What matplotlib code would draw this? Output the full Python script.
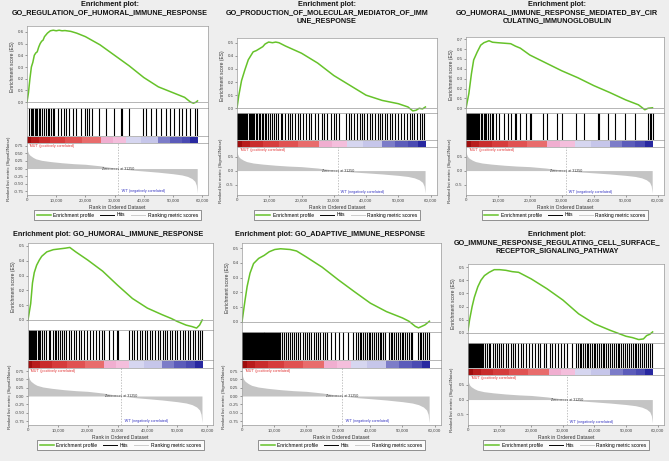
import numpy as np
import matplotlib
matplotlib.use("Agg")
import matplotlib.pyplot as plt
from matplotlib.lines import Line2D

plt.rcParams['font.family'] = ['Liberation Sans', 'DejaVu Sans']

W, H = 669, 461

titles = [
    "Enrichment plot:\nGO_REGULATION_OF_HUMORAL_IMMUNE_RESPONSE",
    "Enrichment plot:\nGO_PRODUCTION_OF_MOLECULAR_MEDIATOR_OF_IMM\nUNE_RESPONSE",
    "Enrichment plot:\nGO_HUMORAL_IMMUNE_RESPONSE_MEDIATED_BY_CIR\nCULATING_IMMUNOGLOBULIN",
    "Enrichment plot: GO_HUMORAL_IMMUNE_RESPONSE",
    "Enrichment plot: GO_ADAPTIVE_IMMUNE_RESPONSE",
    "Enrichment plot:\nGO_IMMUNE_RESPONSE_REGULATING_CELL_SURFACE_\nRECEPTOR_SIGNALING_PATHWAY",
]

# running enrichment score, rank in thousands
es_rank_1 = [0, 0.5, 1.0, 1.5, 2.0, 2.5, 3.0, 3.5, 4.0, 4.5, 5.0, 5.5, 6.0, 7.0, 8.0, 9.0, 10.0, 11.0, 12.0, 13.0,
             15.0, 17.0, 20.0, 25.0, 30.0, 35.0, 40.0, 45.0, 50.0, 54.0, 56.0, 57.0, 58.0, 58.4]
es_val_1 = [0.0, 0.08, 0.20, 0.30, 0.34, 0.40, 0.42, 0.43, 0.47, 0.50, 0.52, 0.53, 0.56, 0.59, 0.61, 0.615, 0.61, 0.615,
            0.61, 0.612, 0.605, 0.59, 0.56, 0.49, 0.40, 0.31, 0.21, 0.13, 0.08, 0.04, 0.0, -0.01, 0.0, 0.01]

es_rank_2 = [0, 0.5, 1.4, 2.4, 3.5, 5.0, 6.0, 7.0, 8.0, 8.7, 9.8, 11.0, 12.0, 13.0, 15.0, 20.0, 25.0, 30.0, 35.0,
             40.0, 45.0, 50.0, 53.0, 54.5, 55.5, 56.5, 57.5, 58.4]
es_val_2 = [0.0, 0.09, 0.21, 0.29, 0.37, 0.43, 0.44, 0.455, 0.47, 0.49, 0.505, 0.50, 0.505, 0.50, 0.475, 0.42, 0.345,
            0.25, 0.175, 0.10, 0.06, 0.035, 0.01, -0.02, -0.015, 0.0, -0.005, 0.01]

es_rank_3 = [0, 0.9, 1.7, 2.4, 3.5, 4.6, 5.6, 7.2, 8.3, 10.0, 12.0, 14.0, 15.5, 17.0, 20.0, 25.0, 30.0, 35.0, 40.0,
             45.0, 50.0, 54.0, 56.0, 57.0, 58.4]
es_val_3 = [0.0, 0.15, 0.35, 0.49, 0.57, 0.64, 0.665, 0.685, 0.67, 0.665, 0.66, 0.655, 0.63, 0.61, 0.54, 0.46, 0.38,
            0.31, 0.23, 0.16, 0.085, 0.035, -0.015, 0.0, 0.005]

es_rank_4 = [0, 0.9, 1.5, 2.1, 2.9, 3.8, 4.6, 6.3, 8.5, 10.5, 12.5, 14.0, 16.0, 20.0, 25.0, 30.0, 35.0, 40.0, 45.0,
             48.0, 50.0, 53.0, 55.0, 56.5, 57.5, 58.4]
es_val_4 = [0.0, 0.11, 0.25, 0.32, 0.37, 0.405, 0.43, 0.46, 0.475, 0.48, 0.485, 0.49, 0.46, 0.405, 0.33, 0.235, 0.145,
            0.08, 0.035, 0.01, -0.01, -0.035, -0.045, -0.055, -0.035, 0.0]

es_rank_5 = [0, 0.9, 1.6, 2.5, 3.6, 5.2, 6.9, 8.5, 10.2, 12.0, 15.0, 17.0, 20.0, 25.0, 30.0, 35.0, 40.0, 45.0, 50.0,
             52.0, 54.0, 55.0, 56.0, 57.0, 58.4]
es_val_5 = [0.0, 0.14, 0.24, 0.33, 0.395, 0.43, 0.45, 0.475, 0.49, 0.495, 0.49, 0.48, 0.44, 0.37, 0.285, 0.205, 0.127,
            0.07, 0.027, 0.005, -0.03, -0.04, -0.03, -0.02, 0.005]

es_rank_6 = [0, 0.5, 1.3, 2.0, 3.1, 4.1, 5.2, 6.7, 8.3, 10.0, 12.0, 14.0, 16.0, 20.0, 25.0, 30.0, 35.0, 40.0, 45.0,
             50.0, 52.0, 54.0, 55.5, 56.5, 57.5, 58.4]
es_val_6 = [0.02, 0.10, 0.20, 0.27, 0.35, 0.40, 0.435, 0.46, 0.48, 0.48, 0.475, 0.465, 0.46, 0.41, 0.335, 0.25, 0.145,
            0.07, 0.02, -0.025, -0.035, -0.05, -0.045, -0.02, -0.01, 0.008]

# gene set hits, rank in thousands
hits_1 = [0.7, 1.25, 1.7, 2.0, 2.6, 3.2, 3.5, 4.1, 4.5, 5.2, 5.8, 6.6, 7.2, 7.7, 8.3, 8.9, 9.4, 10.6, 11.7, 12.8,
          13.4, 14.5, 15.7, 16.8, 18.5, 19.7, 20.5, 21.4, 22.3, 24.8, 27.0, 29.9, 32.2, 32.7, 35.0, 39.8, 40.7,
          42.4, 44.1, 45.8, 47.5, 48.9, 50.3, 52.0, 53.2, 54.3, 56.0, 57.7, 58.3]
hits_2 = [0.1, 0.4, 0.7, 1.0, 1.3, 1.6, 1.9, 2.2, 2.5, 2.9, 3.2, 3.6, 4.0, 4.3, 4.7, 5.0, 5.4, 5.8, 6.3, 6.7, 7.2,
          7.6, 8.1, 8.6, 9.0, 9.5, 10.1, 10.8, 11.5, 12.0, 12.8, 13.5, 14.0, 14.9, 15.7, 16.5, 17.2, 18.0, 18.9,
          19.6, 20.5, 21.4, 22.2, 23.0, 24.1, 25.0, 26.2, 27.1, 28.0, 29.0, 30.0, 30.8, 31.5, 33.9, 34.6, 35.3,
          36.4, 37.2, 38.0, 38.9, 39.5, 40.4, 41.3, 42.0, 42.8, 43.6, 44.3, 45.1, 45.8, 46.6, 47.3, 48.2, 49.0,
          50.0, 50.9, 51.8, 52.6, 53.5, 54.2, 55.0, 55.8, 56.6, 57.3, 58.0]
hits_3 = [0.1, 0.4, 0.7, 1.0, 1.3, 1.6, 1.9, 2.2, 2.5, 2.8, 3.1, 3.4, 3.8, 4.2, 4.6, 5.0, 5.5, 5.9, 6.4, 7.0, 7.5,
          8.0, 8.6, 9.3, 10.4, 12.0, 13.0, 14.0, 15.2, 15.8, 16.8, 18.9, 20.0, 20.5, 24.2, 25.3, 28.5, 30.0, 34.4,
          37.0, 41.3, 41.8, 44.5, 46.6, 49.8, 53.0, 57.0, 57.5, 58.0, 58.4]
hits_4 = [0.2, 0.5, 0.8, 1.1, 1.4, 1.7, 2.0, 2.4, 2.8, 3.2, 3.6, 4.0, 4.6, 5.2, 6.1, 6.9, 7.4, 8.3, 8.9, 9.4, 10.2,
          10.8, 11.3, 12.1, 12.8, 13.6, 14.5, 15.3, 16.2, 17.0, 17.9, 18.7, 19.8, 20.9, 21.8, 22.9, 23.8, 24.8,
          25.4, 27.0, 28.5, 29.9, 30.2, 33.8, 34.9, 35.5, 36.6, 37.5, 38.3, 39.1, 40.0, 40.9, 41.7, 42.5, 43.4,
          44.3, 45.1, 45.8, 46.7, 47.6, 48.4, 49.3, 50.1, 51.0, 51.8, 52.7, 53.5, 54.4, 55.2, 56.0, 56.9, 57.8, 58.3]
hits_5 = [0.1, 0.4, 0.7, 1.0, 1.3, 1.6, 1.9, 2.2, 2.5, 2.8, 3.1, 3.4, 3.7, 4.0, 4.3, 4.6, 4.9, 5.2, 5.5, 5.8, 6.1,
          6.4, 6.7, 7.0, 7.3, 7.6, 7.9, 8.2, 8.5, 8.8, 9.1, 9.4, 9.7, 10.0, 10.3, 10.6, 10.9, 11.2, 11.5, 11.8,
          12.4, 13.0, 13.7, 14.3, 14.9, 15.6, 16.2, 16.9, 17.5, 18.2, 18.9, 19.5, 20.2, 20.9, 21.6, 22.3, 23.0,
          23.7, 24.4, 25.1, 25.8, 26.4, 27.6, 28.9, 30.1, 31.4, 33.0, 34.6, 35.6, 36.1, 36.7, 37.2, 37.8, 38.3,
          38.9, 39.5, 40.0, 40.6, 41.2, 41.7, 42.3, 42.9, 43.4, 44.0, 44.6, 45.7, 46.3, 46.8, 47.4, 48.0, 48.5,
          49.1, 49.7, 50.2, 50.8, 51.4, 52.0, 52.5, 53.1, 54.8, 55.4, 55.9, 56.5, 57.1, 57.6, 58.2]
hits_6 = [0.1, 0.4, 0.7, 1.0, 1.3, 1.6, 1.9, 2.2, 2.5, 2.8, 3.1, 3.4, 3.7, 4.0, 4.3, 4.6, 5.3, 5.9, 6.5, 7.0, 7.8,
          8.4, 9.1, 9.8, 10.4, 11.2, 11.9, 12.6, 13.5, 14.2, 15.0, 15.8, 16.7, 17.5, 18.4, 19.3, 20.2, 21.1, 22.0,
          22.9, 23.9, 24.8, 25.8, 26.7, 27.6, 28.6, 29.5, 30.4, 31.3, 33.0, 34.3, 34.8, 35.3, 35.9, 36.4, 36.9,
          37.5, 38.0, 38.6, 39.1, 39.7, 40.3, 40.8, 41.4, 42.0, 42.6, 43.1, 43.7, 44.3, 44.9, 45.5, 46.1, 46.7,
          47.3, 47.9, 48.5, 49.1, 49.7, 50.3, 50.9, 51.5, 52.1, 52.7, 53.3, 53.9, 54.5, 55.1, 55.7, 56.3, 56.9,
          57.5, 58.1]

# ranked list metric (same ranked list in every panel)
metric_rank = [0, 0.2, 0.5, 1, 2, 3, 5, 8, 12, 16, 20, 25, 31.25, 36, 40, 45, 50, 53, 55, 56.5, 57.5, 58, 58.3]
metric_val = [0.70, 0.58, 0.50, 0.44, 0.37, 0.32, 0.27, 0.23, 0.19, 0.16, 0.14, 0.09, 0.0, -0.05, -0.08, -0.12,
              -0.17, -0.21, -0.26, -0.33, -0.42, -0.55, -0.80]
zero_cross = 31250

# correlation colour bar
bar_edges = [0, 1.5, 4, 8, 13, 19, 25.5, 29.5, 34, 39, 45, 49, 53, 56, 58.5]
bar_colors = ['#9e0d0d', '#b81c1c', '#c92c2c', '#d63c3c', '#e05252', '#e86c6c', '#f0aed0', '#f4bedc',
              '#d6d6f0', '#c6c6ea', '#7c7cc8', '#5c5cba', '#4a4ab2', '#2828a0']

es_ranks = [es_rank_1, es_rank_2, es_rank_3, es_rank_4, es_rank_5, es_rank_6]
es_vals = [es_val_1, es_val_2, es_val_3, es_val_4, es_val_5, es_val_6]
hits_all = [hits_1, hits_2, hits_3, hits_4, hits_5, hits_6]
es_max_tick = [0.6, 0.5, 0.7, 0.5, 0.5, 0.5]

# pixel layout: axes left, right, ES top, ES bottom, hits bottom, bar bottom, metric bottom, title x
layout = [
    (27, 208, 26, 108, 136, 143, 195, 110),
    (237, 437, 38, 113, 140, 147, 195, 327),
    (466, 664, 37, 113, 140, 147, 195, 557),
    (28, 213, 243, 330, 360, 368, 425, 108),
    (242, 441, 243, 332, 360, 368, 425, 330),
    (468, 664, 264, 343, 368, 375, 425, 557),
]
es_ylims = [(-0.051, 0.651), (-0.036, 0.536), (-0.048, 0.723), (-0.068, 0.52), (-0.068, 0.534), (-0.076, 0.523)]
big_metric = [True, False, False, True, True, False]

GREEN = '#66c22a'
SPINE = '#9a9a9a'
XMAX = 62000


def px_axes(fig, x0, y0, x1, y1):
    return fig.add_axes([x0 / W, 1 - y1 / H, (x1 - x0) / W, (y1 - y0) / H])


def style(ax):
    for s in ax.spines.values():
        s.set_color(SPINE)
        s.set_linewidth(0.5)
    ax.tick_params(labelsize=3.2, length=1.5, width=0.4, pad=1, colors='#555555', labelcolor='#444444')
    ax.set_xlim(0, XMAX)


fig = plt.figure(figsize=(W / 100, H / 100), dpi=100, facecolor='#eeeeee')

for i in range(6):
    left, right, es_top, es_bot, hits_bot, bar_bot, met_bot, tx = layout[i]
    row_top = 0 if i < 3 else 230

    fig.text(tx / W, 1 - (row_top + 1) / H, titles[i], ha='center', va='top', fontsize=5.2,
             fontweight='bold', color='#111111', linespacing=1.25)

    # enrichment score
    ax = px_axes(fig, left, es_top, right, es_bot)
    style(ax)
    ax.plot(np.array(es_ranks[i]) * 1000, es_vals[i], color=GREEN, lw=1.1)
    ax.axhline(0, color='#999999', lw=0.5)
    ax.set_ylim(*es_ylims[i])
    ticks = np.round(np.arange(0, es_max_tick[i] + 0.01, 0.1), 1)
    ax.set_yticks(ticks)
    ax.set_yticklabels([f"{t:.1f}" for t in ticks])
    ax.set_xticks([])
    ax.set_ylabel('Enrichment score (ES)', fontsize=3.6, labelpad=2, color='#333333')

    # hits
    axh = px_axes(fig, left, es_bot, right, hits_bot)
    style(axh)
    axh.vlines(np.array(hits_all[i]) * 1000, 0, 1, color='black', lw=0.8)
    axh.set_ylim(0, 1)
    axh.set_xticks([])
    axh.set_yticks([])

    # colour bar
    axb = px_axes(fig, left, hits_bot, right, bar_bot)
    style(axb)
    for j, c in enumerate(bar_colors):
        axb.axvspan(bar_edges[j] * 1000, bar_edges[j + 1] * 1000, ymin=0, ymax=0.9, color=c, lw=0)
    axb.set_xticks([])
    axb.set_yticks([])

    # ranked list metric
    axm = px_axes(fig, left, bar_bot, right, met_bot)
    style(axm)
    axm.fill_between(np.array(metric_rank) * 1000, metric_val, 0, color='#c4c4c4', lw=0)
    axm.axvline(zero_cross, color='#aaaaaa', lw=0.5, ls=(0, (2, 2)))
    axm.set_ylim(-0.87, 0.84)
    if big_metric[i]:
        mt = [0.75, 0.5, 0.25, 0.0, -0.25, -0.5, -0.75]
        axm.set_yticks(mt)
        axm.set_yticklabels([f"{t:.2f}" for t in mt])
    else:
        mt = [0.5, 0.0, -0.5]
        axm.set_yticks(mt)
        axm.set_yticklabels([f"{t:.1f}" for t in mt])
    xt = [0, 10000, 20000, 30000, 40000, 50000, 60000]
    axm.set_xticks(xt)
    axm.set_xticklabels([f"{t:,}" for t in xt])
    axm.set_xlabel('Rank in Ordered Dataset', fontsize=3.6, labelpad=1.5, color='#333333')
    axm.set_ylabel('Ranked list metric (Signal2Noise)', fontsize=3.2, labelpad=2, color='#333333')
    axm.text(800, 0.8, "'MUT' (positively correlated)", color='#e03030', fontsize=2.6, va='top', ha='left')
    axm.text(zero_cross, 0, "Zero cross at 31250", color='#333333', fontsize=2.6, va='center', ha='center')
    axm.text(zero_cross + 800, -0.82, "'WT' (negatively correlated)", color='#3030c0', fontsize=2.6,
             va='bottom', ha='left')

    handles = [Line2D([], [], color=GREEN, lw=1.1), Line2D([], [], color='black', lw=0.7),
               Line2D([], [], color='#cccccc', lw=0.7)]
    leg = fig.legend(handles, ['Enrichment profile', 'Hits', 'Ranking metric scores'], ncol=3,
                     loc='center', bbox_to_anchor=((left + right) / 2 / W, 1 - (met_bot + 20) / H),
                     fontsize=3.6, frameon=True, fancybox=False, edgecolor='#444444', borderpad=0.5,
                     handlelength=2.8, columnspacing=1.2, handletextpad=0.5)
    leg.get_frame().set_linewidth(0.5)

fig.savefig('out.png', dpi=100, facecolor=fig.get_facecolor())
